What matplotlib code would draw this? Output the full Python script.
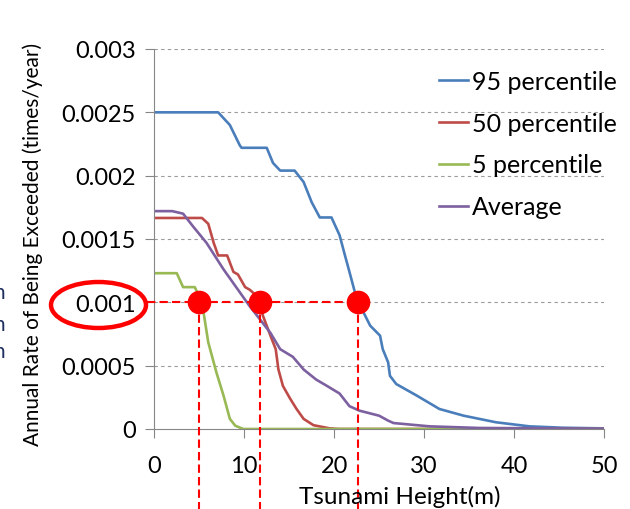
import matplotlib.pyplot as plt
from matplotlib.patches import Ellipse
import numpy as np

plt.rcParams['font.family'] = ['Lato', 'DejaVu Sans']

# curves (tsunami height in m, annual rate)
x95 = [0, 7.1, 8.4, 9.5, 9.7, 12.5, 13.2, 14.0, 15.6, 16.6, 17.5, 18.4, 19.7, 20.6, 21.2,
       21.7, 22.3, 22.7, 24.0, 25.1, 25.4, 26.0, 26.2, 26.9, 29.2, 31.7, 34.4, 38.0,
       41.7, 45.4, 50]
y95 = [0.0025, 0.0025, 0.0024, 0.00224, 0.00222, 0.00222, 0.0021, 0.00204, 0.00204,
       0.00195, 0.00179, 0.00167, 0.00167, 0.00153, 0.00137, 0.00124, 0.00108, 0.001,
       0.000816, 0.000737, 0.00063, 0.000526, 0.00042, 0.000355, 0.000263, 0.000158,
       0.000105, 0.000053, 0.000021, 0.00001, 0.000005]

x50 = [0, 5.3, 6.0, 6.6, 7.1, 8.1, 8.8, 9.3, 10.1, 10.6, 11.4, 12.1, 12.9, 13.5, 13.8,
       14.3, 15.1, 15.8, 16.6, 17.7, 19.5, 20.5, 50]
y50 = [0.001666, 0.001666, 0.00162, 0.00147, 0.00137, 0.00137, 0.00124, 0.00122, 0.00112,
       0.0011, 0.00105, 0.00089, 0.00074, 0.00063, 0.00047, 0.00034, 0.00024, 0.00016,
       0.00008, 0.00003, 0.000005, 0, 0]

x5 = [0, 2.5, 3.2, 4.5, 5.3, 6.0, 6.9, 7.7, 8.4, 9.0, 9.9, 50]
y5 = [0.00123, 0.00123, 0.00112, 0.00112, 0.001, 0.000684, 0.000448, 0.000263, 0.00008,
      0.000026, 0, 0]

xavg = [0, 2.0, 3.2, 4.3, 5.8, 7.7, 9.5, 10.6, 11.7, 12.9, 14.0, 15.4, 16.6, 18.0, 19.2,
        20.6, 21.7, 22.8, 25.0, 26.0, 26.6, 30.6, 36.2, 50]
yavg = [0.00172, 0.00172, 0.0017, 0.0016, 0.00147, 0.00126, 0.00108, 0.00097, 0.00087,
        0.00076, 0.00063, 0.00057, 0.00047, 0.00039, 0.00034, 0.00028, 0.00018, 0.000145,
        0.000105, 0.000066, 0.000047, 0.000021, 0.000008, 0.000003]

# heights where each curve crosses 0.001
level = 0.001
cross_x = [5.0, 11.7, 22.6]

yticks = [0, 0.0005, 0.001, 0.0015, 0.002, 0.0025, 0.003]
ytick_labels = ['0', '0.0005', '0.001', '0.0015', '0.002', '0.0025', '0.003']
xticks = [0, 10, 20, 30, 40, 50]

fig = plt.figure(figsize=(6.3, 5.1), dpi=100)
ax = fig.add_axes([154.3 / 630, 1 - 430 / 510, (604 - 154.3) / 630, 380 / 510])

ax.plot(x95, y95, color='#4A7EBB', lw=1.9, label='95 percentile')
ax.plot(x50, y50, color='#BE4B48', lw=1.9, label='50 percentile')
ax.plot(x5, y5, color='#98B954', lw=1.9, label='5 percentile')
ax.plot(xavg, yavg, color='#7D60A0', lw=1.9, label='Average')

ax.set_xlim(0, 50)
ax.set_ylim(0, 0.003)
ax.set_xticks(xticks)
ax.set_yticks(yticks)
ax.set_yticklabels(ytick_labels)
ax.tick_params(labelsize=17, length=6.5, color='#868686', pad=7)
ax.tick_params(axis='x', pad=12)
for g in yticks[1:]:
    ax.axhline(g, color='#9A9A9A', lw=0.8, ls=(0, (3, 3)), zorder=0)
for s in ['top', 'right']:
    ax.spines[s].set_visible(False)
for s in ['left', 'bottom']:
    ax.spines[s].set_color('#868686')

leg = ax.legend(loc='upper left', bbox_to_anchor=(439 / 630, 1 - 71 / 510),
                bbox_transform=fig.transFigure, frameon=False, fontsize=18,
                handlelength=1.15, handletextpad=0.15, labelspacing=0.75,
                borderaxespad=0, borderpad=0)

# red guide lines and dots
red = '#FF0000'
ax.plot([-0.8, cross_x[-1]], [level, level], color=red, lw=1.5, ls=(0, (4, 2)),
        clip_on=False, zorder=5)
for cx in cross_x:
    ax.plot([cx, cx], [level, -0.0008], color=red, lw=1.5, ls=(0, (4, 2)),
            clip_on=False, zorder=5)
ax.plot(cross_x, [level] * len(cross_x), 'o', color=red, ms=16, clip_on=False, zorder=6)

fig.add_artist(Ellipse((98.5 / 630, 1 - 306 / 510), 95 / 630, 46 / 510,
                       transform=fig.transFigure, fill=False, ec=red, lw=3.2))

fig.text(33 / 630, 1 - 244 / 510, 'Annual Rate of Being Exceeded (times/year)',
         rotation=90, ha='center', va='center', fontsize=15)
fig.text(400 / 630, 1 - 497 / 510, 'Tsunami Height(m)', ha='center', va='center',
         fontsize=17.5)

# cut-off letters at the left edge, as in the source image
for yy in [293, 325, 352]:
    fig.text(5 / 630, 1 - yy / 510, 'n', ha='right', va='center', fontsize=15,
             color='#1F2F5F')

fig.savefig('out.png', dpi=100)
